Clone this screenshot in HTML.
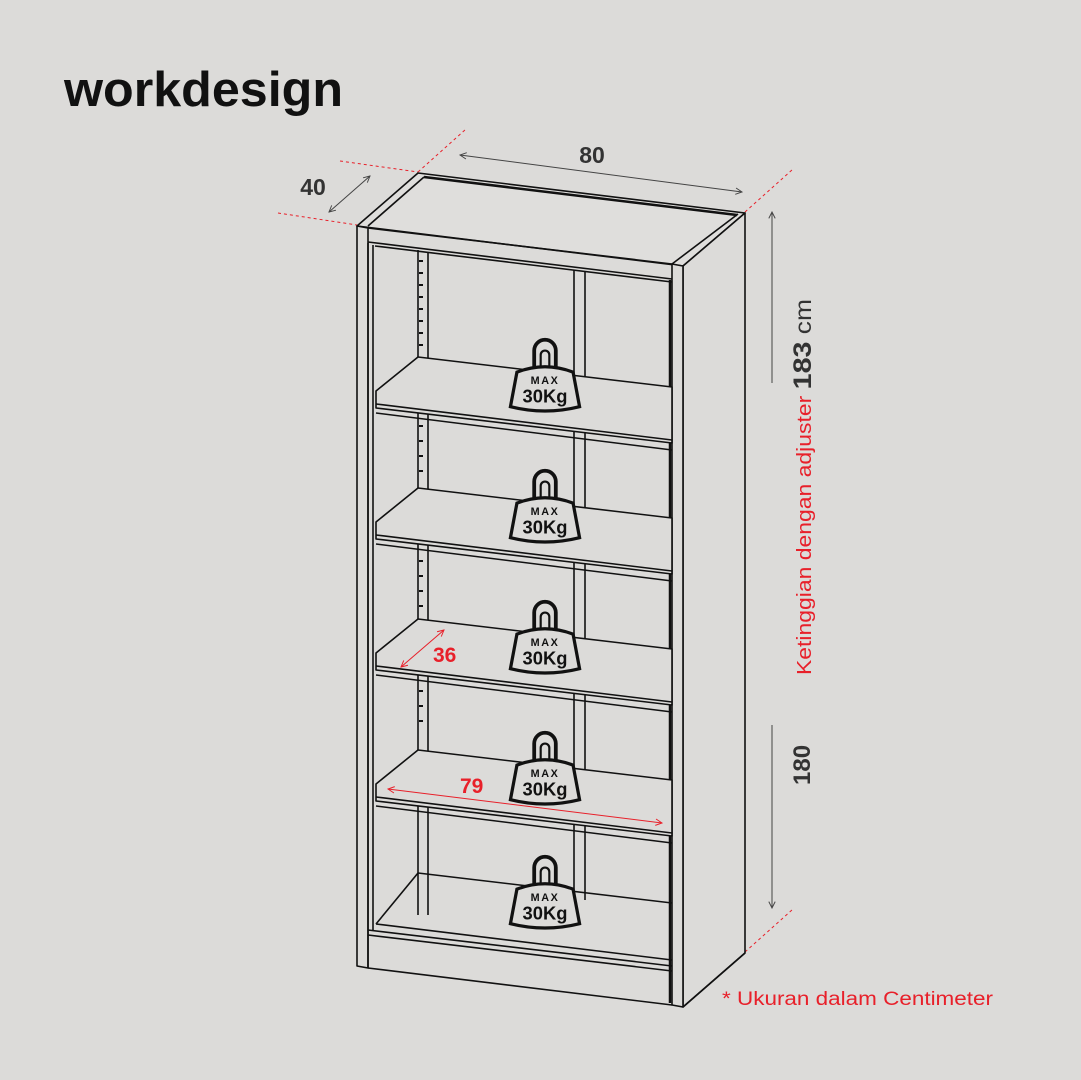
<!DOCTYPE html>
<html><head><meta charset="utf-8"><style>
html,body{margin:0;padding:0;background:#dcdbd9;}
svg{display:block;}
text{font-family:"Liberation Sans",sans-serif;}
</style></head><body>
<svg width="1081" height="1080" viewBox="0 0 1081 1080" xmlns="http://www.w3.org/2000/svg">
<rect width="1081" height="1080" fill="#dcdbd9"/>
<text x="64" y="106" font-size="49" font-weight="bold" fill="#111" textLength="279" lengthAdjust="spacingAndGlyphs">workdesign</text>

<defs>
<marker id="ag" viewBox="0 0 10 10" refX="9" refY="5" markerWidth="8" markerHeight="8" orient="auto-start-reverse"><path d="M1 1 L9 5 L1 9" fill="none" stroke="#444" stroke-width="1.2"/></marker>
<marker id="ar" viewBox="0 0 10 10" refX="9" refY="5" markerWidth="8" markerHeight="8" orient="auto-start-reverse"><path d="M1 1 L9 5 L1 9" fill="none" stroke="#e8202a" stroke-width="1.2"/></marker>
<g id="wt">
<path d="M-10 -2 L-10 -18 A10 10 0 0 1 10 -18 L10 -2" fill="none" stroke="#111" stroke-width="3.5"/>
<path d="M-4 -2 L-4 -14 A4 4 0 0 1 4 -14 L4 -2" fill="none" stroke="#111" stroke-width="2"/>
<path d="M-26 2 Q0 -8 26 2 L32 34 Q0 42 -32 34 Z" fill="#dcdbd9" stroke="#111" stroke-width="3"/>
<text x="0" y="13" font-size="10" font-weight="bold" text-anchor="middle" fill="#111" letter-spacing="1.5">MAX</text>
<text x="0" y="30" font-size="17" font-weight="bold" text-anchor="middle" fill="#111">30Kg</text>
</g>
</defs>

<g stroke="#e8202a" stroke-width="1" stroke-dasharray="3 3" fill="none">
<line x1="340" y1="161" x2="418" y2="172"/>
<line x1="278" y1="213" x2="357" y2="225"/>
<line x1="418" y1="172" x2="466" y2="129"/>
<line x1="745" y1="212" x2="793" y2="169"/>
<line x1="745" y1="952" x2="793" y2="909"/>
</g>

<line x1="460" y1="155" x2="742" y2="192" stroke="#444" stroke-width="1" marker-start="url(#ag)" marker-end="url(#ag)"/>
<line x1="329" y1="212" x2="370" y2="176" stroke="#444" stroke-width="1" marker-start="url(#ag)" marker-end="url(#ag)"/>
<line x1="772" y1="212" x2="772" y2="383" stroke="#444" stroke-width="1" marker-start="url(#ag)"/>
<line x1="772" y1="725" x2="772" y2="908" stroke="#444" stroke-width="1" marker-end="url(#ag)"/>
<text x="592" y="163" font-size="23" font-weight="bold" fill="#333" text-anchor="middle">80</text>
<text x="313" y="195" font-size="23" font-weight="bold" fill="#333" text-anchor="middle">40</text>
<g transform="translate(811,675) rotate(-90)">
<text x="0" y="0" font-size="20" fill="#e8202a" textLength="376" lengthAdjust="spacingAndGlyphs">Ketinggian dengan adjuster <tspan fill="#333" font-weight="bold" font-size="25">183</tspan><tspan fill="#333" font-size="23"> cm</tspan></text>
</g>
<text transform="translate(810,785) rotate(-90)" font-size="24" font-weight="bold" fill="#333">180</text>
<text x="722" y="1005" font-size="19" fill="#e8202a" textLength="271" lengthAdjust="spacingAndGlyphs">* Ukuran dalam Centimeter</text>

<g stroke="#111" stroke-width="1.6" fill="none" stroke-linejoin="round">
<polygon points="357,226 418,173 745,213 683,266" fill="#dfdedc"/>
<line x1="368" y1="226" x2="424" y2="177"/>
<line x1="424" y1="177" x2="737" y2="215" stroke-width="2.5"/>
<line x1="672" y1="264" x2="738" y2="214"/>
<polygon points="683,266 745,213 745,953 683,1007" fill="#dcdbd9"/>
<polygon points="357,226 368,228 368,968 357,966" fill="#dcdbd9"/>
<line x1="368" y1="243" x2="368" y2="968"/>
<line x1="373" y1="245" x2="373" y2="930"/>
<polygon points="672,264 683,266 683,1007 672,1005" fill="#dcdbd9"/>
<line x1="670" y1="280" x2="670" y2="1003" stroke-width="2.5"/>
<line x1="368" y1="228" x2="672" y2="264"/>
<line x1="368" y1="242" x2="672" y2="279"/>
<line x1="375" y1="246" x2="672" y2="282"/>
<line x1="418" y1="250" x2="418" y2="915"/>
<line x1="428" y1="252" x2="428" y2="915"/>
<line x1="574" y1="270" x2="574" y2="900"/>
<line x1="585" y1="272" x2="585" y2="900"/>
<line x1="368" y1="968" x2="672" y2="1005"/>
<line x1="683" y1="1007" x2="745" y2="953"/>
<line x1="368" y1="930" x2="672" y2="966"/>
<line x1="368" y1="935" x2="672" y2="971"/>
<line x1="376" y1="924" x2="672" y2="960"/>
<line x1="376" y1="924" x2="418" y2="873"/>
<line x1="418" y1="873" x2="672" y2="903"/>
</g>

<g stroke="#111" stroke-width="1.6" fill="#dcdbd9" stroke-linejoin="round">
<g id="sh">
<polygon points="418,357 672,387 672,443 376,408 376,391" />
<line x1="376" y1="404" x2="672" y2="440"/>
<line x1="376" y1="413" x2="672" y2="450"/>
</g>
<use href="#sh" transform="translate(0,131)"/>
<use href="#sh" transform="translate(0,262)"/>
<use href="#sh" transform="translate(0,393)"/>
</g>

<g fill="#111">
<rect x="419" y="260" width="4" height="2"/><rect x="419" y="272" width="4" height="2"/><rect x="419" y="284" width="4" height="2"/><rect x="419" y="296" width="4" height="2"/><rect x="419" y="308" width="4" height="2"/><rect x="419" y="320" width="4" height="2"/><rect x="419" y="332" width="4" height="2"/><rect x="419" y="344" width="4" height="2"/>
<rect x="419" y="425" width="4" height="2"/><rect x="419" y="440" width="4" height="2"/><rect x="419" y="455" width="4" height="2"/><rect x="419" y="470" width="4" height="2"/>
<rect x="419" y="560" width="4" height="2"/><rect x="419" y="575" width="4" height="2"/><rect x="419" y="590" width="4" height="2"/><rect x="419" y="605" width="4" height="2"/>
<rect x="419" y="690" width="4" height="2"/><rect x="419" y="705" width="4" height="2"/><rect x="419" y="720" width="4" height="2"/>
</g>

<use href="#wt" transform="translate(545,370) scale(1.08)"/>
<use href="#wt" transform="translate(545,501) scale(1.08)"/>
<use href="#wt" transform="translate(545,632) scale(1.08)"/>
<use href="#wt" transform="translate(545,763) scale(1.08)"/>
<use href="#wt" transform="translate(545,887) scale(1.08)"/>

<line x1="401" y1="667" x2="444" y2="630" stroke="#e8202a" stroke-width="1" marker-start="url(#ar)" marker-end="url(#ar)"/>
<text x="433" y="662" font-size="21" font-weight="bold" fill="#e8202a">36</text>
<line x1="388" y1="789" x2="662" y2="823" stroke="#e8202a" stroke-width="1" marker-start="url(#ar)" marker-end="url(#ar)"/>
<text x="460" y="793" font-size="21" font-weight="bold" fill="#e8202a">79</text>
</svg>
</body></html>
